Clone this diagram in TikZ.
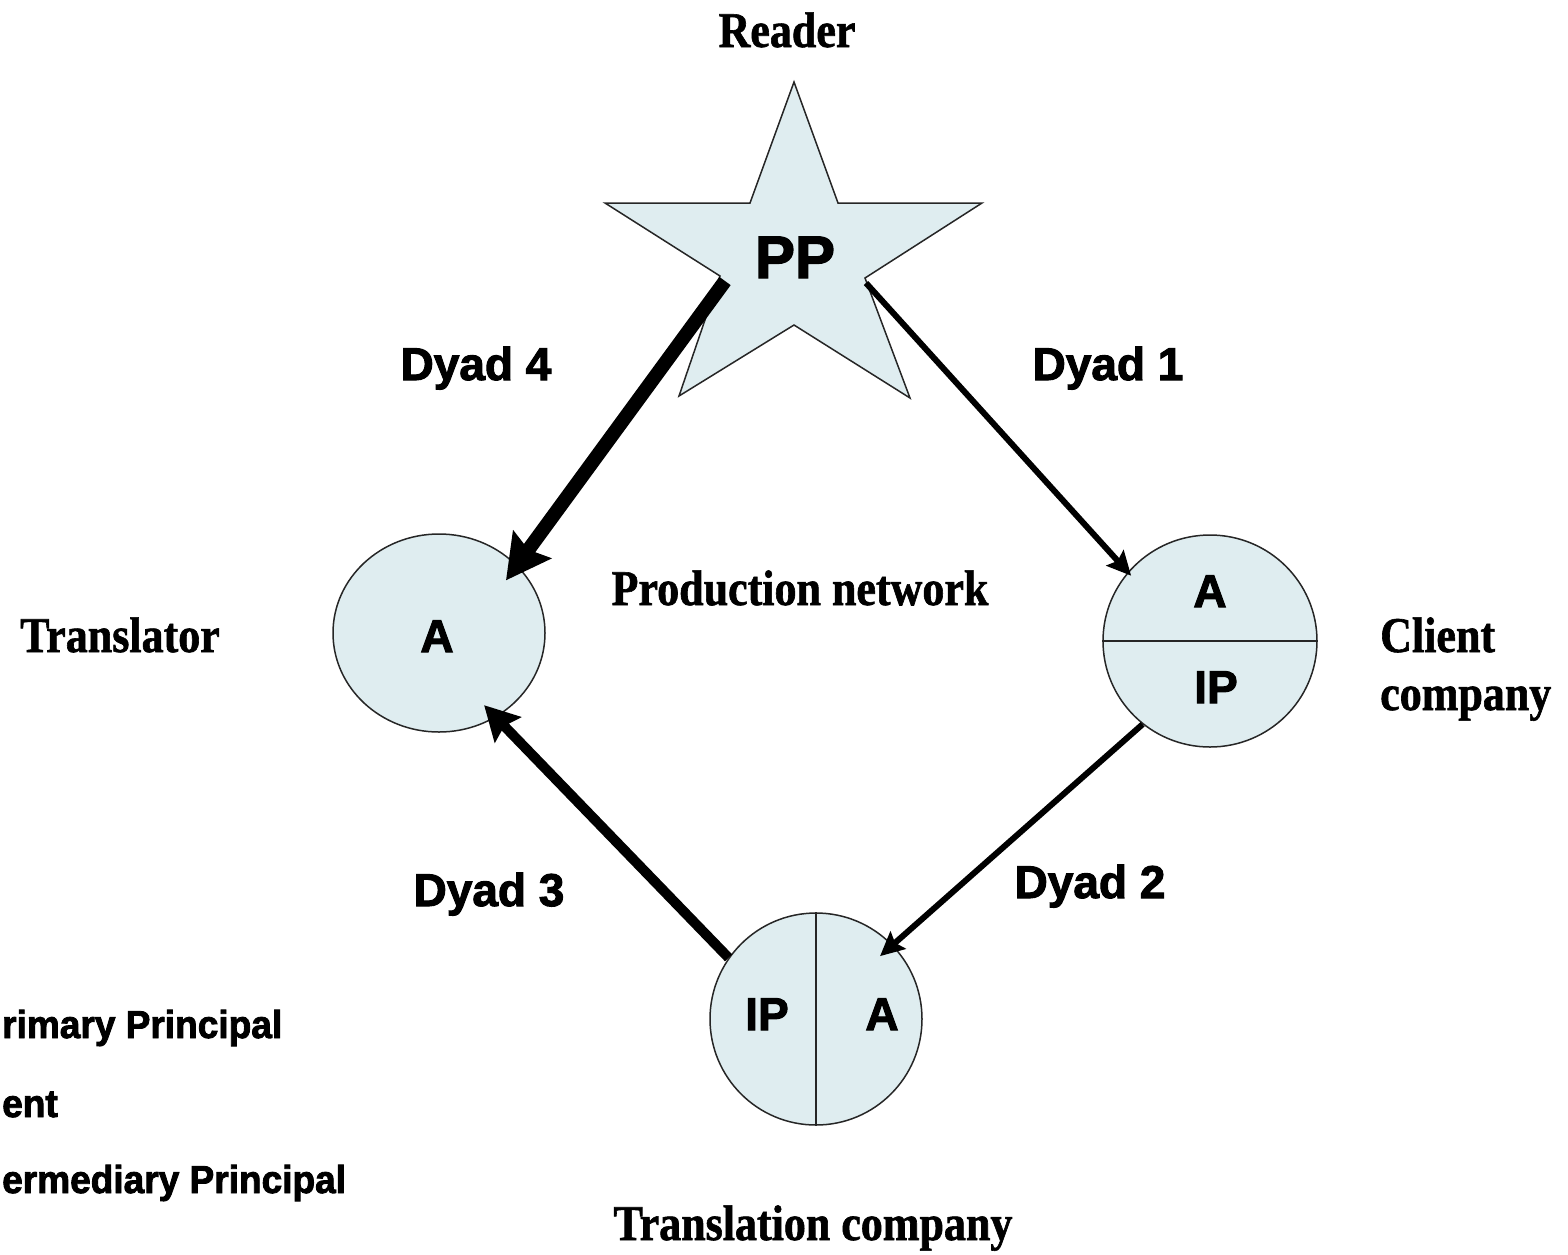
\documentclass[tikz,border=0pt]{standalone}
\usepackage{fontspec}
\setmainfont{Liberation Serif}
\newfontfamily\serifc[FakeStretch=0.88,FakeBold=1.2]{Liberation Serif}
\newfontfamily\sansf[FakeBold=2.2]{Liberation Sans}
\newfontfamily\sanscond[FakeStretch=0.95,FakeBold=2.2]{Liberation Sans}
\usetikzlibrary{arrows.meta,shapes.geometric,calc}
\definecolor{pale}{RGB}{223,237,240}
\begin{document}
\begin{tikzpicture}[x=1pt,y=-1pt,
  seriflbl/.style={inner sep=0pt, font=\serifc\bfseries\fontsize{50}{56}\selectfont, anchor=base},
  sanslbl/.style={inner sep=0pt, font=\sansf\bfseries\fontsize{46}{50}\selectfont, anchor=base},
  legendlbl/.style={inner sep=0pt, font=\sanscond\bfseries\fontsize{39}{44}\selectfont, anchor=base west},
  pcircle/.style={ellipse, draw=black!85, line width=1.5pt, fill=pale, inner sep=0pt},
  divline/.style={draw=black!85, line width=1.5pt},
  arrowthick/.style={line width=14pt, -{Stealth[length=44pt,width=46pt,inset=6pt]}},
  arrowmid/.style={line width=10pt, -{Stealth[length=34pt,width=36pt,inset=5pt]}},
  arrowthin/.style={line width=6pt, -{Stealth[length=24pt,width=23pt,inset=4pt]}}
]
\useasboundingbox (0,0) rectangle (1568,1254);

% star
\coordinate (s1) at (794,82);
\coordinate (s2) at (838,203);
\coordinate (s3) at (982,203);
\coordinate (s4) at (865,278);
\coordinate (s5) at (910,398);
\coordinate (s6) at (794,325);
\coordinate (s7) at (679,396);
\coordinate (s8) at (720,276);
\coordinate (s9) at (605,203);
\coordinate (s10) at (750,203);
\draw[fill=pale, draw=black!85, line width=1.5pt, line join=miter]
  (s1) -- (s2) -- (s3) -- (s4) -- (s5) -- (s6) -- (s7) -- (s8) -- (s9) -- (s10) -- cycle;
\node[sanslbl, font=\sansf\bfseries\fontsize{60}{64}\selectfont] (pp) at (795,278) {PP};
\coordinate (d4s) at (725,281);
\coordinate (d1s) at (866,283);

% circles
\node[pcircle, minimum width=212pt, minimum height=198pt] (tr) at (439,633) {};
\node[pcircle, minimum width=214pt, minimum height=212pt] (cl) at (1210,641) {};
\node[pcircle, minimum width=212pt, minimum height=212pt] (tc) at (816,1019) {};
\draw[divline] (cl.west) -- (cl.east);
\draw[divline] (tc.north) -- (tc.south);

\node[sanslbl] (trA) at (437,652) {A};
\node[sanslbl] (clA) at (1210,607) {A};
\node[sanslbl] (clIP) at (1216,703) {IP};
\node[sanslbl] (tcIP) at (767,1030) {IP};
\node[sanslbl] (tcA) at (882,1030) {A};

% arrows
\draw[arrowthick, shorten >=-19pt] (d4s) -- (tr.41.6);
\draw[arrowthin, shorten >=-5pt] (d1s) -- (cl.140.6);
\draw[arrowthin, shorten >=-17pt] (cl.231) -- (tc.44);
\draw[arrowmid, shorten >=-17pt] (tc.145) -- (tr.-56.7);

% labels
\node[seriflbl] (reader) at (787,47) {Reader};
\node[seriflbl] (prodnet) at (800,605) {Production network};
\node[seriflbl] (translator) at (120,652) {Translator};
\node[seriflbl, anchor=base west] (client) at (1380,652) {Client};
\node[seriflbl, anchor=base west] (company) at (1380,710) {company};
\node[seriflbl] (tcomp) at (813,1240) {Translation company};

\node[sanslbl] (dy4) at (476,380) {Dyad 4};
\node[sanslbl] (dy1) at (1108,380) {Dyad 1};
\node[sanslbl] (dy2) at (1090,898) {Dyad 2};
\node[sanslbl] (dy3) at (489,906) {Dyad 3};

% legend (as cut by the left edge in the reference)
\node[legendlbl] (lg1) at (2,1038) {rimary Principal};
\node[legendlbl] (lg2) at (2,1117) {ent};
\node[legendlbl] (lg3) at (2,1193) {ermediary Principal};
\end{tikzpicture}
\end{document}
